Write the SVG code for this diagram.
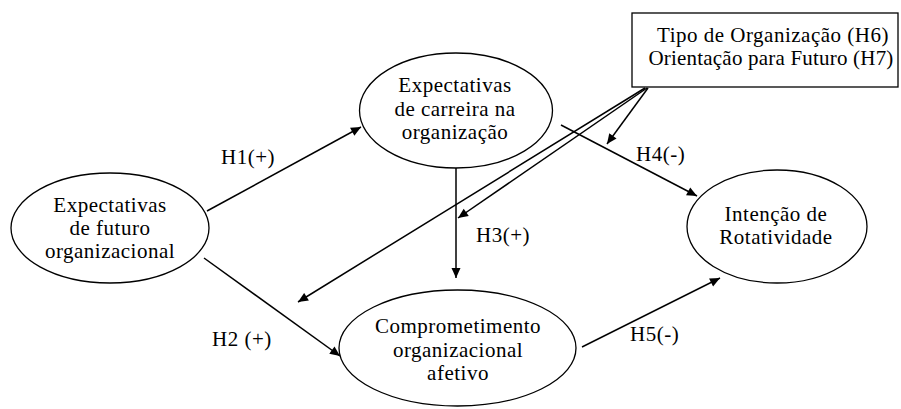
<svg xmlns="http://www.w3.org/2000/svg" width="901" height="409" viewBox="0 0 901 409">
<defs>
<marker id="ah" viewBox="0 0 10 10" refX="10" refY="5" markerWidth="11" markerHeight="10" markerUnits="userSpaceOnUse" orient="auto">
<path d="M0,0.5 L10,5 L0,9.5 z" fill="#000"/>
</marker>
<style>
.n{fill:#fff;stroke:#000;stroke-width:1.3}
.t{font-size:21px;letter-spacing:0.5px;fill:#000;text-anchor:middle}
.l{font-size:21px;letter-spacing:0.5px;fill:#000}
.c{stroke:#000;stroke-width:1.5;fill:none}
</style>
</defs>
<rect width="901" height="409" fill="#fff"/>
<g id="connectors" font-family="Liberation Serif, DejaVu Serif, serif">
<line class="c" x1="207" y1="211" x2="361" y2="127" marker-end="url(#ah)"/>
<line class="c" x1="204" y1="258" x2="340" y2="356" marker-end="url(#ah)"/>
<line class="c" x1="456" y1="168" x2="456" y2="278" marker-end="url(#ah)"/>
<line class="c" x1="561" y1="125" x2="697" y2="196" marker-end="url(#ah)"/>
<line class="c" x1="582" y1="347" x2="720" y2="278" marker-end="url(#ah)"/>
<line class="c" x1="645" y1="88" x2="298" y2="302" marker-end="url(#ah)"/>
<line class="c" x1="647" y1="88" x2="458" y2="218" marker-end="url(#ah)"/>
<line class="c" x1="648" y1="88" x2="607" y2="144" marker-end="url(#ah)"/>
<text class="l" x="221" y="164">H1(+)</text>
<text class="l" x="212" y="346">H2 (+)</text>
<text class="l" x="476" y="242">H3(+)</text>
<text class="l" x="636" y="161">H4(-)</text>
<text class="l" x="630" y="341">H5(-)</text>
</g>
<g id="node-futuro" font-family="Liberation Serif, DejaVu Serif, serif">
<ellipse class="n" cx="110" cy="228" rx="99" ry="55"/>
<text class="t" x="110" y="212">Expectativas</text>
<text class="t" x="110" y="235">de futuro</text>
<text class="t" x="110" y="258">organizacional</text>
</g>
<g id="node-carreira" font-family="Liberation Serif, DejaVu Serif, serif">
<ellipse class="n" cx="456" cy="110.5" rx="96.5" ry="57.5"/>
<text class="t" x="455" y="92">Expectativas</text>
<text class="t" x="455" y="116">de carreira na</text>
<text class="t" x="455" y="139">organização</text>
</g>
<g id="node-comprometimento" font-family="Liberation Serif, DejaVu Serif, serif">
<ellipse class="n" cx="457.5" cy="348" rx="118.5" ry="58"/>
<text class="t" x="458" y="333">Comprometimento</text>
<text class="t" x="458" y="357">organizacional</text>
<text class="t" x="458" y="380">afetivo</text>
</g>
<g id="node-rotatividade" font-family="Liberation Serif, DejaVu Serif, serif">
<ellipse class="n" cx="777" cy="226.5" rx="90" ry="56.5"/>
<text class="t" x="776" y="221">Intenção de</text>
<text class="t" x="776" y="244">Rotatividade</text>
</g>
<g id="node-moderadores" font-family="Liberation Serif, DejaVu Serif, serif">
<rect class="n" x="632" y="13" width="266" height="74"/>
<text class="t" x="773" y="42">Tipo de Organização (H6)</text>
<text class="t" x="771" y="65" style="letter-spacing:0.2px">Orientação para Futuro (H7)</text>
</g>
</svg>
